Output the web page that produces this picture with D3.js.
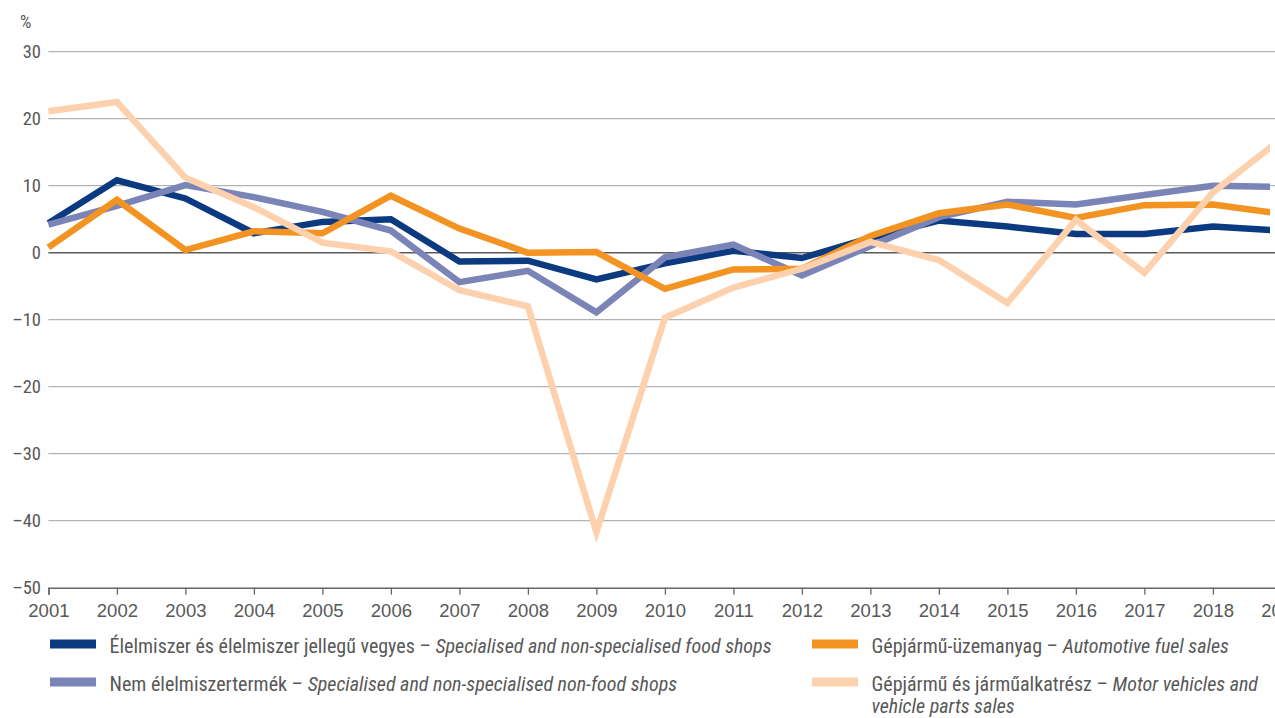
<!DOCTYPE html>
<html><head><meta charset="utf-8">
<script src="https://cdn.jsdelivr.net/npm/d3@7"></script>
<style>
html,body{margin:0;padding:0;background:#fff;}
svg{display:block;font-family:"Liberation Sans Narrow","Arial Narrow","Roboto Condensed","Liberation Sans",sans-serif;}
</style></head>
<body>
<svg id="chart" width="1275" height="718"></svg>
<script>
const years = [2001,2002,2003,2004,2005,2006,2007,2008,2009,2010,2011,2012,2013,2014,2015,2016,2017,2018,2019];
const foodShops   = [4.4,10.8,8.1,2.9,4.6,5.0,-1.3,-1.2,-4.0,-1.6,0.3,-0.8,2.2,4.8,3.9,2.8,2.8,3.9,3.3];
const nonFood     = [4.2,7.0,10.1,8.3,6.1,3.3,-4.4,-2.7,-8.9,-0.7,1.2,-3.4,1.0,5.3,7.6,7.2,8.6,10.0,9.8];
const fuelSales   = [0.8,7.9,0.4,3.2,2.9,8.5,3.6,0.0,0.1,-5.4,-2.5,-2.4,2.5,5.9,7.2,5.2,7.1,7.2,5.8];
const motorSales  = [21.1,22.5,11.2,6.8,1.5,0.2,-5.6,-8.0,-41.7,-9.7,-5.2,-2.4,1.6,-1.1,-7.5,4.9,-3.0,9.0,17.0];
const yTicks = [30,20,10,0,-10,-20,-30,-40,-50];
const seriesNames = [
  ["Élelmiszer és élelmiszer jellegű vegyes – ","Specialised and non-specialised food shops"],
  ["Gépjármű-üzemanyag – ","Automotive fuel sales"],
  ["Nem élelmiszertermék – ","Specialised and non-specialised non-food shops"],
  ["Gépjármű és járműalkatrész – ","Motor vehicles and","vehicle parts sales"]
];
const colors = ["#0b3a80","#f39322","#7b84b7","#fdd1ae"];

const svg = d3.select("#chart");
const x = d3.scaleLinear().domain([2001,2019]).range([48.4,1281.4]);
const y = d3.scaleLinear().domain([-50,30]).range([587.7,51.7]);
const textCol = "#585858";

// gridlines
svg.append("g").selectAll("line").data(yTicks.filter(d=>d!==-50 && d!==0)).join("line")
  .attr("x1",x(2001)).attr("x2",1275).attr("y1",d=>y(d)).attr("y2",d=>y(d))
  .attr("stroke","#b3b3b3").attr("stroke-width",1.2);

// y labels
svg.append("g").selectAll("text").data(yTicks).join("text")
  .attr("x",41).attr("y",d=>y(d)+6.5).attr("text-anchor","end")
  .attr("font-size",18.5).attr("fill",textCol)
  .text(d=>d<0?"\u2013"+Math.abs(d):String(d));
svg.append("text").attr("x",20).attr("y",28).attr("font-size",18).attr("fill",textCol).text("%");

// clip for plot
svg.append("clipPath").attr("id","clip").append("rect").attr("x",0).attr("y",0).attr("width",1270).attr("height",718);

// x axis
const xAxis = d3.axisBottom(x).tickValues(years).tickFormat(d3.format("d")).tickSize(7).tickPadding(9);
const gx = svg.append("g").attr("transform",`translate(0,${y(-50)})`).call(xAxis);
gx.select(".domain").attr("stroke","#666").attr("stroke-width",1.5);
gx.selectAll(".tick line").attr("stroke","#666").attr("stroke-width",1.3);
gx.selectAll(".tick text").attr("font-size",18.5).attr("fill",textCol)
  .attr("font-family","'Liberation Sans Narrow','Arial Narrow',sans-serif");

// zero line
svg.append("line").attr("x1",x(2001)).attr("x2",1275).attr("y1",y(0)).attr("y2",y(0))
  .attr("stroke","#5a5a5a").attr("stroke-width",1.6);

const line = d3.line().x((d,i)=>x(years[i])).y(d=>y(d));
const plotG = svg.append("g").attr("clip-path","url(#clip)");
const drawOrder = [[foodShops,colors[0]],[nonFood,colors[2]],[fuelSales,colors[1]],[motorSales,colors[3]]];
drawOrder.forEach(([data,c])=>{
  plotG.append("path").datum(data).attr("d",line).attr("fill","none")
    .attr("stroke",c).attr("stroke-width",6.5).attr("stroke-linejoin","miter").attr("stroke-linecap","butt");
});

// legend
const legendPos = [[50,644],[812,644],[50,682],[812,682]];
seriesNames.forEach((nm,i)=>{
  const [lx,ly] = legendPos[i];
  svg.append("rect").attr("x",lx).attr("y",ly-4.5).attr("width",46).attr("height",9).attr("fill",colors[i]);
  const t = svg.append("text").attr("x",lx+59.5).attr("y",ly+9).attr("font-size",20).attr("fill",textCol);
  t.append("tspan").text(nm[0]);
  t.append("tspan").attr("font-style","italic").text(nm[1]);
  if(nm[2]){
    svg.append("text").attr("x",lx+59.5).attr("y",ly+31).attr("font-size",20).attr("fill",textCol)
      .attr("font-style","italic").text(nm[2]);
  }
});
</script>
</body></html>
